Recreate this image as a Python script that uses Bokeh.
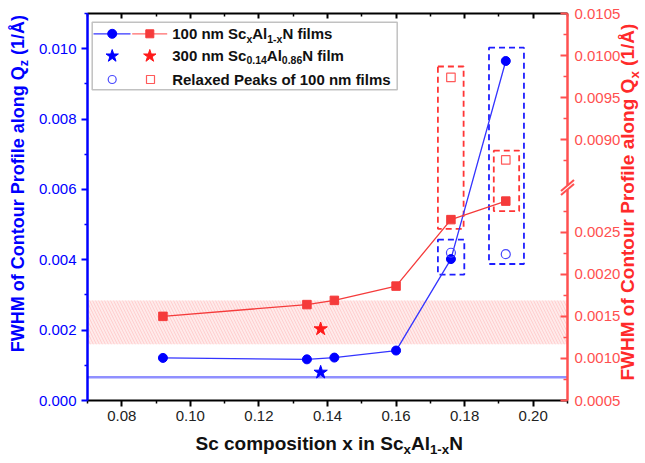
import math
from bokeh.plotting import figure
from bokeh.models import (Range1d, LinearAxis, FixedTicker, PrintfTickFormatter,
                          CustomJSTickFormatter, Label, BoxAnnotation)
from bokeh.embed import file_html
from bokeh.resources import INLINE

# ---------------- data ----------------
sc_x = [0.092, 0.134, 0.142, 0.160, 0.176, 0.192]
fwhm_qz = [0.00121, 0.00117, 0.00122, 0.00142, 0.00402, 0.00965]
fwhm_qx = [0.00150, 0.00164, 0.00169, 0.00186, 0.00265, 0.00287]
relaxed_x = [0.176, 0.192]
relaxed_qz = [0.00420, 0.00416]
relaxed_qx = [0.00974, 0.00876]
film300_x = [0.138]
film300_qz = [0.00080]
film300_qx = [0.00135]
substrate_qz = 0.00066
band_qx = [0.00117, 0.00169]
box_blue_x = [(0.1722, 0.1799), (0.1871, 0.1973)]
box_blue_y = [(0.00358, 0.00457), (0.00388, 0.01003)]
box_red_x = [(0.1722, 0.1797), (0.1885, 0.1959)]
box_red_y = [(0.00254, 0.00987), (0.00275, 0.00887)]
x_ticks = [0.08, 0.10, 0.12, 0.14, 0.16, 0.18, 0.20]
x_minor = [0.07, 0.09, 0.11, 0.13, 0.15, 0.17, 0.19, 0.21]
qz_ticks = [0.0, 0.002, 0.004, 0.006, 0.008, 0.010]
qz_minor = [0.001, 0.003, 0.005, 0.007, 0.009, 0.011]
qx_ticks_low = [0.0005, 0.0010, 0.0015, 0.0020, 0.0025]
qx_minor_low = [0.00075, 0.00125, 0.00175, 0.00225, 0.00275]
qx_ticks_high = [0.0090, 0.0095, 0.0100, 0.0105]
qx_minor_high = [0.00875, 0.00925, 0.00975, 0.01025]

# broken right axis: upper segment shifted down by BREAK_OFFSET
BREAK_OFFSET = 0.0054
BREAK_AT = 0.00305


def qx_axis(v):
    return v - BREAK_OFFSET if v > 0.006 else v


BLUE = "#0000ff"
BLUE_LINE = "#3434ff"
RED = "#f53b3b"
RED_AXIS = "#ff5050"
RED_LABEL = "#ff2a2a"
FONT = "Liberation Sans"

# data window of the axes box
X0, X1 = 0.07, 0.21
YL0, YL1 = 0.0, 0.011
YR0, YR1 = 0.0005, 0.0051
# canvas and axes box geometry (px)
CW, CH = 641, 459
FL, FR, FT, FB = 87, 567, 13, 400
FW, FH = FR - FL, FB - FT
xpp = (X1 - X0) / FW
ypp = (YL1 - YL0) / FH
rpp = (YR1 - YR0) / FH


def X(px):
    return X0 + (px - FL) * xpp


def YL(py):
    return YL0 + (FB - py) * ypp


def YR(py):
    return YR0 + (FB - py) * rpp


# the plot frame covers the whole canvas; the axes sit at fixed locations
p = figure(x_range=Range1d(X0 - FL * xpp, X1 + (CW - FR) * xpp),
           y_range=Range1d(YL0 - (CH - FB) * ypp, YL1 + FT * ypp),
           width=CW, height=CH, output_backend="svg", toolbar_location=None,
           x_axis_location=None, y_axis_location=None,
           min_border_left=0, min_border_right=0, min_border_top=0, min_border_bottom=0)
p.extra_y_ranges = {"right": Range1d(YR0 - (CH - FB) * rpp, YR1 + FT * rpp)}
p.grid.visible = False
p.outline_line_color = None
p.background_fill_color = "white"
p.border_fill_color = "white"


def style_axis(ax, color, lw, tick_in, tick_out, mtick_in, mtick_out):
    ax.axis_line_color = color
    ax.axis_line_width = lw
    ax.major_tick_line_color = color
    ax.minor_tick_line_color = color
    ax.major_tick_line_width = 2
    ax.minor_tick_line_width = 1.5
    ax.major_tick_in = tick_in
    ax.major_tick_out = tick_out
    ax.minor_tick_in = mtick_in
    ax.minor_tick_out = mtick_out
    ax.major_label_text_font = FONT
    ax.major_label_text_font_size = "15px"


# bottom axis
xa = LinearAxis(fixed_location=YL0, bounds=(X0, X1),
                ticker=FixedTicker(ticks=x_ticks, minor_ticks=x_minor),
                formatter=PrintfTickFormatter(format="%.2f"))
style_axis(xa, "black", 2, 0, 6, 0, 3)
xa.major_label_text_color = "#222222"
xa.major_label_standoff = 4
p.add_layout(xa, "below")

# top axis (no labels)
ta = LinearAxis(fixed_location=YL1, bounds=(X0, X1),
                ticker=FixedTicker(ticks=x_ticks, minor_ticks=x_minor),
                formatter=CustomJSTickFormatter(code="return '';"))
style_axis(ta, "black", 2, 5, 0, 3, 0)
ta.major_label_standoff = 0
p.add_layout(ta, "above")

# left axis
ya = LinearAxis(fixed_location=X0, bounds=(YL0, YL1),
                ticker=FixedTicker(ticks=qz_ticks, minor_ticks=qz_minor),
                formatter=PrintfTickFormatter(format="%.3f"))
style_axis(ya, BLUE, 2.5, 0, 6, 0, 3)
ya.major_label_text_color = BLUE
ya.major_label_standoff = 5
p.add_layout(ya, "left")

# right (broken) axis
ra = LinearAxis(y_range_name="right", fixed_location=X1, bounds=(YR0, YR1),
                ticker=FixedTicker(ticks=qx_ticks_low + [qx_axis(v) for v in qx_ticks_high],
                                   minor_ticks=qx_minor_low + [qx_axis(v) for v in qx_minor_high]),
                formatter=CustomJSTickFormatter(
                    args=dict(off=BREAK_OFFSET, brk=BREAK_AT),
                    code="const v = tick > brk ? tick + off : tick; return v.toFixed(4);"))
style_axis(ra, RED_AXIS, 2.5, 7, 0, 4, 0)
ra.major_label_text_color = RED_AXIS
ra.major_label_standoff = 7
p.add_layout(ra, "right")

# hatched band and substrate reference line
p.add_layout(BoxAnnotation(left=X0, right=X1, bottom=band_qx[0], top=band_qx[1],
                           y_range_name="right",
                           fill_color="#ffdcdc", fill_alpha=0.6, line_color=None,
                           hatch_pattern="\\", hatch_color="#ffb4b4", hatch_alpha=0.5,
                           hatch_scale=6, hatch_weight=1, level="underlay"))
p.segment(x0=[X0], y0=[substrate_qz], x1=[X1], y1=[substrate_qz],
          line_color="#7d7dff", line_alpha=0.85, line_width=2.5, level="underlay")

# dashed boxes
p.quad(left=[b[0] for b in box_blue_x], right=[b[1] for b in box_blue_x],
       bottom=[b[0] for b in box_blue_y], top=[b[1] for b in box_blue_y],
       fill_color=None, line_color="#1e1eff", line_width=1.8, line_dash="6 4")
p.quad(left=[b[0] for b in box_red_x], right=[b[1] for b in box_red_x],
       bottom=[qx_axis(b[0]) for b in box_red_y], top=[qx_axis(b[1]) for b in box_red_y],
       fill_color=None, line_color="#ff3535", line_width=1.8, line_dash="6 4",
       y_range_name="right")

# series
p.line(sc_x, fwhm_qz, line_color=BLUE_LINE, line_width=1.3)
p.scatter(sc_x, fwhm_qz, marker="circle", size=9, fill_color=BLUE, line_color=BLUE)
p.line(sc_x, [qx_axis(v) for v in fwhm_qx], line_color=RED, line_width=1.3, y_range_name="right")
p.scatter(sc_x, [qx_axis(v) for v in fwhm_qx], marker="square", size=8.5,
          fill_color=RED, line_color=RED, y_range_name="right")
p.scatter(relaxed_x, relaxed_qz, marker="circle", size=9, fill_color=None,
          line_color="#4a4aff", line_width=1.2)
p.scatter(relaxed_x, [qx_axis(v) for v in relaxed_qx], marker="square", size=8.5,
          fill_color=None, line_color="#ff5a5a", line_width=1.2, y_range_name="right")
p.scatter(film300_x, film300_qz, marker="star", size=14, fill_color=BLUE, line_color=BLUE)
p.scatter(film300_x, [qx_axis(v) for v in film300_qx], marker="star", size=14,
          fill_color="#ff1a1a", line_color="#ff1a1a", y_range_name="right")

# axis break marks (drawn above the axis)
dx = 6.5 * xpp
dy = 5.5 * rpp
gx = 2.5 * xpp
p.quad(left=[X1 - gx], right=[X1 + gx], bottom=[YR(189)], top=[YR(185)],
       fill_color="white", line_color=None, y_range_name="right", level="overlay")
p.segment(x0=[X1 - dx, X1 - dx], y0=[YR(185) - dy, YR(189) - dy],
          x1=[X1 + dx, X1 + dx], y1=[YR(185) + dy, YR(189) + dy],
          line_color=RED_AXIS, line_width=2, y_range_name="right", level="overlay")

# ---------------- legend (manual) ----------------
p.add_layout(BoxAnnotation(left=X(91.7), right=X(396.7), top=YL(21.7), bottom=YL(89.3),
                           fill_color="white", fill_alpha=1, line_color="#333333",
                           line_width=1.5, level="underlay"))
r1, r2, r3 = YL(33.3), YL(55.5), YL(79)
p.line([X(93), X(130)], [r1, r1], line_color=BLUE_LINE, line_width=1.3)
p.scatter([X(111.7)], [r1], marker="circle", size=9, fill_color=BLUE, line_color=BLUE)
p.line([X(131.7), X(166.7)], [r1, r1], line_color="#ff6a6a", line_width=1.3)
p.scatter([X(149.3)], [r1], marker="square", size=8, fill_color=RED, line_color=RED)
p.scatter([X(111.7)], [r2], marker="star", size=13, fill_color=BLUE, line_color=BLUE)
p.scatter([X(149.3)], [r2], marker="star", size=13, fill_color="#ff1a1a", line_color="#ff1a1a")
p.scatter([X(111.7)], [r3], marker="circle", size=8, fill_color=None,
          line_color="#4a4aff", line_width=1.2)
p.scatter([X(150)], [r3], marker="square", size=8, fill_color=None,
          line_color="#ff5a5a", line_width=1.2)

# ---------------- rich text helper ----------------
W = {' ': 278, '(': 333, ')': 333, '-': 333, '.': 278, '/': 278, 'A': 722, 'C': 722,
     'F': 611, 'H': 722, 'M': 833, 'N': 722, 'P': 667, 'Q': 778, 'R': 722, 'S': 667,
     'W': 944, 'Å': 722, 'a': 556, 'c': 556, 'd': 611, 'e': 556, 'f': 333, 'g': 611,
     'i': 278, 'k': 556, 'l': 278, 'm': 889, 'n': 611, 'o': 611, 'p': 611, 'r': 389,
     's': 556, 't': 333, 'u': 611, 'x': 556, 'z': 500}
MID = 0.35  # text middle above the baseline, in em


def tw(s, fs):
    return sum(W.get(ch, 556) for ch in s) * fs / 1000.0


def rich(runs, bx, by, size, color, vertical=False, sub_scale=0.7, sub_drop=0.22):
    """runs of (text, 'n'|'s'); (bx, by) = baseline start in canvas px."""
    x0, y0 = bx - FL, FB - by
    pos = 0.0
    for txt, kind in runs:
        fs = size * sub_scale if kind == "s" else size
        drop = (size * sub_drop if kind == "s" else 0.0) - MID * fs
        lead = len(txt) - len(txt.lstrip(" "))
        pos += tw(" " * lead, fs)
        core = txt.strip(" ")
        if vertical:
            xo, yo, ang = x0 + drop, y0 + pos, math.pi / 2
        else:
            xo, yo, ang = x0 + pos, y0 - drop, 0.0
        p.add_layout(Label(x=X0, y=YL0, x_offset=xo, y_offset=yo, text=core, angle=ang,
                           text_font=FONT, text_font_size=f"{fs:.1f}px",
                           text_font_style="bold", text_color=color,
                           text_align="left", text_baseline="middle"))
        pos += tw(txt.lstrip(" "), fs)


LEG = "#111111"
rich([("100 nm Sc", "n"), ("x", "s"), ("Al", "n"), ("1-x", "s"), ("N films", "n")],
     171.7, 38.5, 15, LEG)
rich([("300 nm Sc", "n"), ("0.14", "s"), ("Al", "n"), ("0.86", "s"), ("N film", "n")],
     171.7, 60.3, 15, LEG)
rich([("Relaxed Peaks of 100 nm films", "n")], 171.7, 84.2, 15, LEG)

rich([("Sc composition x in Sc", "n"), ("x", "s"), ("Al", "n"), ("1-x", "s"), ("N", "n")],
     195, 449.5, 19, "#111111")
rich([("FWHM of Contour Profile along Q", "n"), ("z", "s"), (" (1/Å)", "n")],
     24, 351.7, 18, BLUE, vertical=True)
rich([("FWHM of Contour Profile along Q", "n"), ("x", "s"), (" (1/Å)", "n")],
     634, 380, 19, RED_LABEL, vertical=True)

open("out.html", "w").write(file_html(p, INLINE))
